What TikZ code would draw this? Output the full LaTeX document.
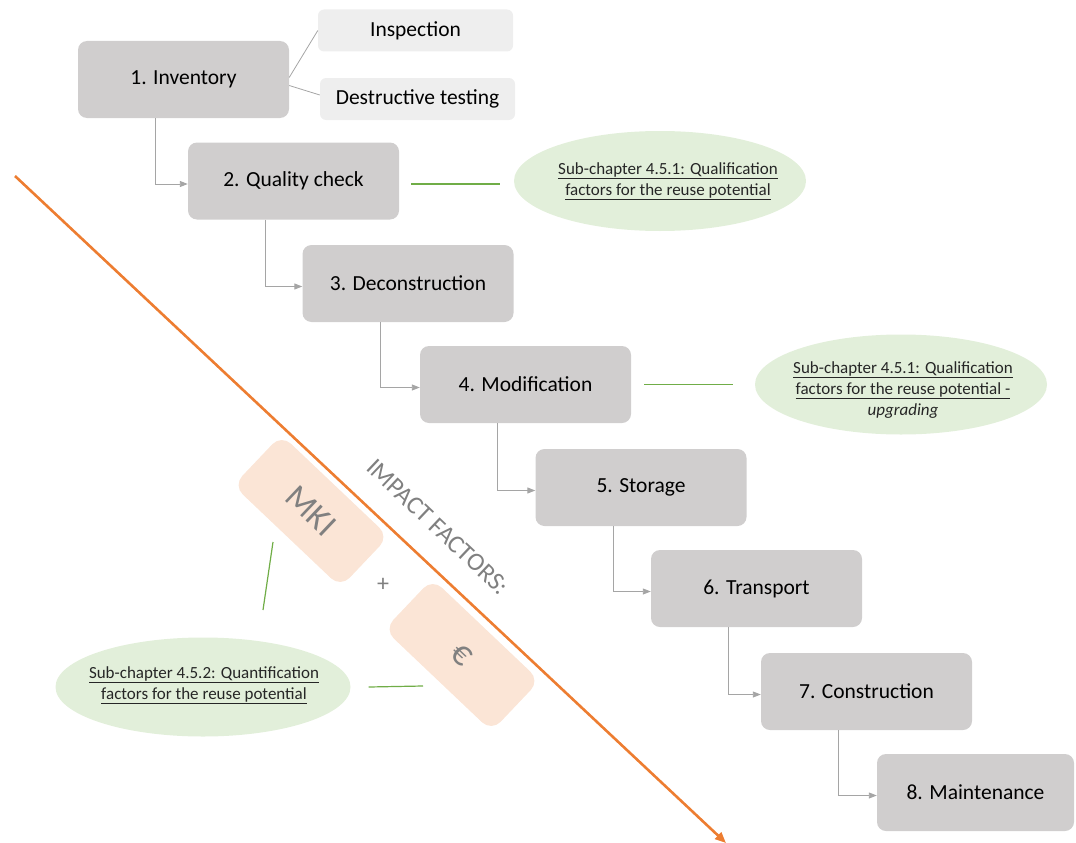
\documentclass[tikz,border=0pt]{standalone}
\usepackage{fontspec}
\setmainfont{Carlito}
\usetikzlibrary{arrows.meta,shapes.geometric}
\definecolor{boxgray}{RGB}{208,206,206}
\definecolor{lightbox}{RGB}{238,238,238}
\definecolor{ellgreen}{RGB}{226,239,218}
\definecolor{linegreen}{RGB}{112,173,71}
\definecolor{peach}{RGB}{251,229,214}
\definecolor{orangeline}{RGB}{237,125,49}
\definecolor{txtgray}{RGB}{128,128,128}
\definecolor{conngray}{RGB}{165,165,165}
\tikzset{
  stepbox/.style={fill=boxgray, rounded corners=9pt, minimum width=211pt, minimum height=77pt, font=\fontsize{21.5}{24}\selectfont, text=black, inner sep=0pt},
  subbox/.style={fill=lightbox, rounded corners=6pt, minimum width=195pt, minimum height=42pt, font=\fontsize{21.5}{24}\selectfont, text=black, inner sep=0pt},
  ellshape/.style={ellipse, fill=ellgreen, inner sep=0pt, text width=0pt},
  reftext/.style={inner sep=0pt, font=\fontsize{17}{21}\selectfont, text=black!85, align=center},
  conn/.style={draw=conngray, line width=0.9pt, -{Triangle[length=8pt,width=6pt]}},
  greenline/.style={draw=linegreen, line width=1.2pt},
  impbox/.style={fill=peach, rounded corners=13pt, minimum width=148pt, minimum height=70pt, rotate=-43.5, text=txtgray, inner sep=0pt},
}
\begin{document}
\begin{tikzpicture}[x=1pt,y=-1pt]
\useasboundingbox (0,0) rectangle (1076,843);
% orange axis
\coordinate (oa) at (15,176);
\coordinate (ob) at (726,843);
\draw[orangeline, line width=2.6pt, -{Triangle[length=11pt,width=9pt]}] (oa) -- (ob);
% step boxes
\node[stepbox] (b1) at (183.5,79.5) {1. Inventory};
\node[stepbox] (b2) at (293.5,181) {2. Quality check};
\node[stepbox] (b3) at (408,283.5) {3. Deconstruction};
\node[stepbox] (b4) at (525.5,384.5) {4. Modification};
\node[stepbox] (b5) at (641,487.5) {5. Storage};
\node[stepbox] (b6) at (756.5,588.5) {6. Transport};
\node[stepbox] (b7) at (866.5,691.5) {7. Construction};
\node[stepbox, minimum width=197pt] (b8) at (975.5,792.5) {8. Maintenance};
% sub boxes
\node[subbox] (insp) at (415.5,30.5) {Inspection};
\node[subbox] (dest) at (417.5,99) {Destructive testing};
\draw[draw=conngray, line width=0.8pt] ([yshift=2pt]b1.east) -- (insp.west);
\draw[draw=conngray, line width=0.8pt] ([yshift=-6pt]b1.east) -- ([yshift=4pt]dest.west);
% connectors
\draw[conn] ([xshift=-28pt]b1.south) |- ([yshift=-3pt]b2.west);
\draw[conn] ([xshift=-28pt]b2.south) |- ([yshift=-3pt]b3.west);
\draw[conn] ([xshift=-28pt]b3.south) |- ([yshift=-3pt]b4.west);
\draw[conn] ([xshift=-28pt]b4.south) |- ([yshift=-3pt]b5.west);
\draw[conn] ([xshift=-28pt]b5.south) |- ([yshift=-3pt]b6.west);
\draw[conn] ([xshift=-28pt]b6.south) |- ([yshift=-3pt]b7.west);
\draw[conn] ([xshift=-28pt]b7.south) |- ([yshift=-3pt]b8.west);
% reference ellipses
\node[ellshape, minimum width=292pt, minimum height=100pt] (e1) at (660,181) {};
\node[reftext] (t1) at (668,181)
  {\underline{Sub-chapter 4.5.1: Qualification}\\\underline{factors for the reuse potential}};
\node[ellshape, minimum width=292pt, minimum height=100pt] (e2) at (901,384.5) {};
\node[reftext] (t2) at (903,390)
  {\underline{Sub-chapter 4.5.1: Qualification}\\\underline{factors for the reuse potential -}\\\textit{upgrading}};
\node[ellshape, minimum width=295pt, minimum height=99pt] (e3) at (203,687) {};
\node[reftext] (t3) at (204,685)
  {\underline{Sub-chapter 4.5.2: Quantification}\\\underline{factors for the reuse potential}};
\draw[greenline] ([xshift=12pt,yshift=-3pt]b2.east) -- ([xshift=-14pt,yshift=-3pt]e1.west);
\draw[greenline] ([xshift=13pt]b4.east) -- ([xshift=-22pt]e2.west);
% impact factors
\node[impbox, font=\fontsize{34}{34}\selectfont] (mki) at (311,511) {MKI};
\node[impbox, font=\fontsize{36}{36}\selectfont] (eur) at (462,655) {€};
\node[text=txtgray, font=\fontsize{24}{24}\selectfont] (plus) at (383,585) {+};
\node[text=txtgray, rotate=-43.5, font=\fontsize{25.5}{26}\selectfont] (imp) at (438,527) {IMPACT FACTORS:};
\coordinate (g1a) at (273,542);
\coordinate (g1b) at (263,610);
\coordinate (g2b) at (423,686);
\draw[greenline] (g1a) -- (g1b);
\draw[greenline] ([xshift=18pt]e3.east) -- (g2b);
\end{tikzpicture}
\end{document}
